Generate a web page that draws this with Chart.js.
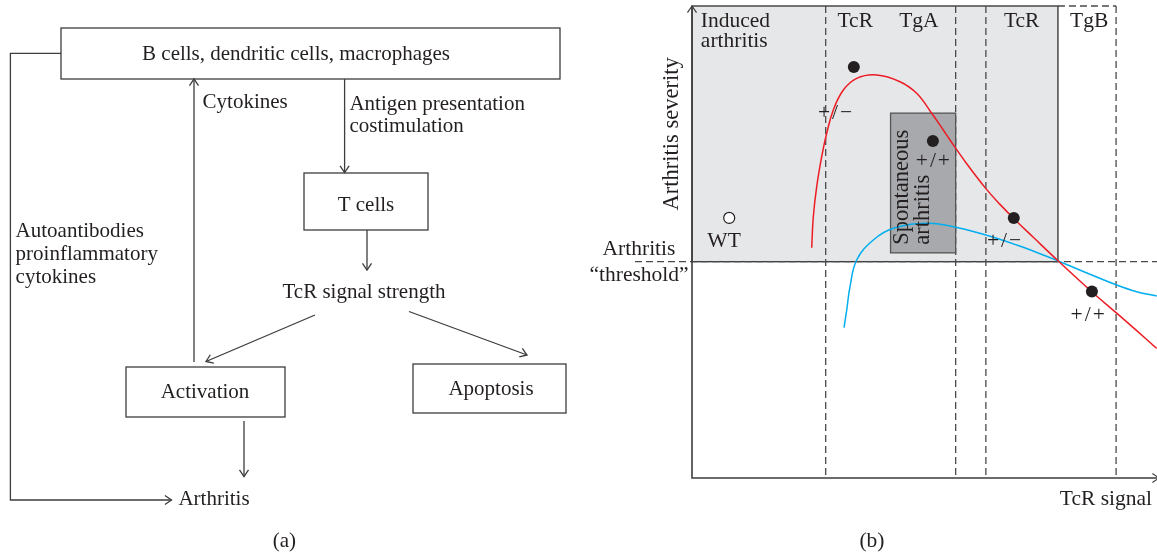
<!DOCTYPE html>
<html>
<head>
<meta charset="utf-8">
<script src="https://cdn.jsdelivr.net/npm/chart.js@4.4.1/dist/chart.umd.min.js"></script>
<style>
  html, body { margin: 0; padding: 0; background: #fff; width: 1157px; height: 554px; overflow: hidden; }
  canvas { position: absolute; top: 0; }
  #flow { left: 0; }
  #curve { left: 580px; }
</style>
</head>
<body>
<canvas id="flow" width="580" height="554"></canvas>
<canvas id="curve" width="577" height="554"></canvas>
<script>
const FONT = '"Liberation Serif", "DejaVu Serif", serif';
const INK = '#231f20';
const LINE = '#3d3d3d';

// panel (b): TcR signal (x, 0-100) against arthritis severity (y, 0-100)
const redX = [25.74, 26.09, 26.82, 27.89, 28.97, 30.39, 32.54, 35.42, 39.72, 44.73, 48.32, 51.55, 54.04, 55.48, 59.08, 63.16, 66.24, 69.46, 73.40, 78.77, 85.96, 91.33, 95.63, 99.94];
const redY = [48.79, 55.36, 61.72, 68.07, 73.03, 77.97, 82.20, 84.68, 85.38, 83.96, 81.50, 77.27, 73.73, 71.61, 66.59, 61.36, 57.97, 54.72, 51.00, 45.97, 39.47, 34.92, 31.23, 27.46];
const blueX = [32.69, 33.27, 33.98, 35.42, 38.99, 43.29, 50.47, 55.48, 62.65, 69.83, 75.55, 78.77, 84.15, 91.33, 95.63, 99.94];
const blueY = [31.84, 35.59, 40.53, 46.19, 50.42, 52.90, 53.96, 53.39, 51.63, 49.36, 47.25, 45.97, 43.75, 40.89, 39.47, 38.56];
const mutantX = [34.8, 51.8, 69.2, 86.0];
const mutantY = [87.1, 71.4, 55.1, 39.5];
const mutantLabels = ['+/\u2212', '+/+', '+/\u2212', '+/+'];
const wtX = [8.0];
const wtY = [55.1];
const threshold = 45.83;
const inducedRight = 78.7;
const bandEdges = [28.75, 56.7, 63.2, 91.2];
const bandLabels = ['TcR', 'TgA', 'TcR', 'TgB'];
const bandLabelX = [35.1, 48.8, 70.9, 85.4];
const spontaneous = [42.7, 56.7, 47.7, 77.3]; // x0, x1, y0, y1

function arrowHead(ctx, x0, y0, x1, y1, len) {
  const a = Math.atan2(y1 - y0, x1 - x0);
  ctx.beginPath();
  ctx.moveTo(x1 - len * Math.cos(a - 0.6), y1 - len * Math.sin(a - 0.6));
  ctx.lineTo(x1, y1);
  ctx.lineTo(x1 - len * Math.cos(a + 0.6), y1 - len * Math.sin(a + 0.6));
  ctx.stroke();
}

// ---------- panel (a): flow diagram ----------
const boxes = [
  { x0: 61, y0: 28, x1: 560, y1: 79, text: 'B cells, dendritic cells, macrophages', tx: 296, ty: 60 },
  { x0: 304, y0: 173, x1: 428, y1: 230, text: 'T cells', tx: 366, ty: 211 },
  { x0: 126, y0: 367, x1: 285, y1: 417, text: 'Activation', tx: 205, ty: 398 },
  { x0: 413, y0: 364, x1: 566, y1: 413, text: 'Apoptosis', tx: 491, ty: 395 }
];
const arrows = [
  [[194, 362], [194, 79]],
  [[344.6, 79], [344.6, 172.5]],
  [[367, 230], [367, 270]],
  [[315, 315], [206, 361.5]],
  [[409, 311.5], [527, 355]],
  [[244, 421], [244, 476.5]],
  [[61, 53.3], [10.4, 53.3], [10.4, 500], [171.5, 500]]
];
const notes = [
  { text: 'Cytokines', x: 202.6, y: 108, align: 'left' },
  { text: 'Antigen presentation', x: 349.4, y: 110, align: 'left' },
  { text: 'costimulation', x: 349.4, y: 131.7, align: 'left' },
  { text: 'Autoantibodies', x: 15.6, y: 236.7, align: 'left' },
  { text: 'proinflammatory', x: 15.6, y: 260, align: 'left' },
  { text: 'cytokines', x: 15.6, y: 283.3, align: 'left' },
  { text: 'TcR signal strength', x: 364, y: 298.3, align: 'center' },
  { text: 'Arthritis', x: 178.4, y: 505, align: 'left' },
  { text: '(a)', x: 284.4, y: 546.7, align: 'center' }
];

const flowPlugin = {
  id: 'flow',
  afterDraw(chart) {
    const ctx = chart.ctx;
    const X = v => chart.scales.x.getPixelForValue(v);
    const Y = v => chart.scales.y.getPixelForValue(v);
    ctx.save();
    ctx.strokeStyle = LINE;
    ctx.lineWidth = 1.3;
    ctx.fillStyle = INK;
    ctx.font = '21px ' + FONT;
    ctx.textBaseline = 'alphabetic';
    boxes.forEach(b => {
      ctx.strokeRect(X(b.x0), Y(b.y0), X(b.x1) - X(b.x0), Y(b.y1) - Y(b.y0));
      ctx.textAlign = 'center';
      ctx.fillText(b.text, X(b.tx), Y(b.ty));
    });
    arrows.forEach(pts => {
      ctx.beginPath();
      pts.forEach((p, i) => i ? ctx.lineTo(X(p[0]), Y(p[1])) : ctx.moveTo(X(p[0]), Y(p[1])));
      ctx.stroke();
      const a = pts[pts.length - 2], b = pts[pts.length - 1];
      arrowHead(ctx, X(a[0]), Y(a[1]), X(b[0]), Y(b[1]), 8);
    });
    notes.forEach(n => {
      ctx.textAlign = n.align;
      ctx.fillText(n.text, X(n.x), Y(n.y));
    });
    ctx.restore();
  }
};

new Chart(document.getElementById('flow'), {
  type: 'scatter',
  data: { datasets: [] },
  options: {
    responsive: false,
    animation: false,
    events: [],
    layout: { padding: 0, autoPadding: false },
    plugins: { legend: { display: false }, tooltip: { enabled: false } },
    scales: {
      x: { type: 'linear', min: 0, max: 580, display: false },
      y: { type: 'linear', min: 0, max: 554, reverse: true, display: false }
    }
  },
  plugins: [flowPlugin]
});

// ---------- panel (b): severity curves ----------
const regionPlugin = {
  id: 'regions',
  beforeDatasetsDraw(chart) {
    const ctx = chart.ctx;
    const a = chart.chartArea;
    const X = v => chart.scales.x.getPixelForValue(v);
    const Y = v => chart.scales.y.getPixelForValue(v);
    ctx.save();
    // induced arthritis region
    ctx.fillStyle = '#e6e7e8';
    ctx.fillRect(X(0), Y(100), X(inducedRight) - X(0), Y(threshold) - Y(100));
    ctx.strokeStyle = LINE;
    ctx.lineWidth = 1.4;
    ctx.strokeRect(X(0), Y(100), X(inducedRight) - X(0), Y(threshold) - Y(100));
    // dashed band edges
    ctx.setLineDash([7, 4]);
    ctx.lineWidth = 1.3;
    ctx.strokeStyle = '#4a4a4a';
    bandEdges.forEach(e => {
      ctx.beginPath();
      ctx.moveTo(X(e), Y(100));
      ctx.lineTo(X(e), Y(0));
      ctx.stroke();
    });
    ctx.beginPath();
    ctx.moveTo(X(inducedRight), Y(100));
    ctx.lineTo(X(bandEdges[3]), Y(100));
    ctx.stroke();
    ctx.beginPath();
    ctx.moveTo(a.left - 57, Y(threshold));
    ctx.lineTo(a.right, Y(threshold));
    ctx.stroke();
    ctx.setLineDash([]);
    // spontaneous arthritis box
    const [sx0, sx1, sy0, sy1] = spontaneous;
    ctx.fillStyle = '#a7a9ac';
    ctx.fillRect(X(sx0), Y(sy1), X(sx1) - X(sx0), Y(sy0) - Y(sy1));
    ctx.strokeStyle = '#555';
    ctx.lineWidth = 1.3;
    ctx.strokeRect(X(sx0), Y(sy1), X(sx1) - X(sx0), Y(sy0) - Y(sy1));
    // axes
    ctx.strokeStyle = LINE;
    ctx.lineWidth = 1.6;
    ctx.beginPath();
    ctx.moveTo(a.left, a.top);
    ctx.lineTo(a.left, a.bottom);
    ctx.lineTo(a.right, a.bottom);
    ctx.stroke();
    ctx.lineWidth = 1.2;
    arrowHead(ctx, a.left, a.top + 20, a.left, a.top, 8);
    arrowHead(ctx, a.right - 20, a.bottom, a.right + 2, a.bottom, 8);
    ctx.restore();
  },
  afterDatasetsDraw(chart) {
    const ctx = chart.ctx;
    const a = chart.chartArea;
    const X = v => chart.scales.x.getPixelForValue(v);
    const Y = v => chart.scales.y.getPixelForValue(v);
    ctx.save();
    ctx.fillStyle = INK;
    ctx.font = '21.5px ' + FONT;
    ctx.textBaseline = 'alphabetic';
    ctx.textAlign = 'left';
    ctx.fillText('Induced', X(1.9), Y(95.6));
    ctx.fillText('arthritis', X(1.9), Y(91.3));
    ctx.textAlign = 'center';
    bandLabels.forEach((t, i) => ctx.fillText(t, X(bandLabelX[i]), Y(95.6)));
    ctx.fillText('WT', X(6.9), Y(49.0));
    // genotype labels next to the filled points
    const labelPos = [[30.75, 77.3], [51.8, 67.0], [67.1, 50.1], [85.1, 34.5]];
    ctx.textBaseline = 'middle';
    ctx.letterSpacing = '2px';
    mutantLabels.forEach((t, i) => ctx.fillText(t, X(labelPos[i][0]) + 1, Y(labelPos[i][1])));
    ctx.letterSpacing = '0px';
    // spontaneous arthritis, rotated
    ctx.font = '22.5px ' + FONT;
    ctx.save();
    ctx.translate(X(47.4), Y(49.4));
    ctx.rotate(-Math.PI / 2);
    ctx.textAlign = 'left';
    ctx.fillText('Spontaneous', 0, -10.8);
    ctx.fillText('arthritis', 0, 10.8);
    ctx.restore();
    // axis titles
    ctx.save();
    ctx.translate(a.left - 20, Y(72.9));
    ctx.rotate(-Math.PI / 2);
    ctx.textAlign = 'center';
    ctx.fillText('Arthritis severity', 0, 0);
    ctx.restore();
    ctx.font = '21.5px ' + FONT;
    ctx.textBaseline = 'alphabetic';
    ctx.textAlign = 'center';
    ctx.fillText('Arthritis', a.left - 53, Y(threshold) - 7);
    ctx.fillText('\u201Cthreshold\u201D', a.left - 53, Y(threshold) + 19.7);
    ctx.textAlign = 'right';
    ctx.fillText('TcR signal', a.right - 5, a.bottom + 27);
    ctx.textAlign = 'center';
    ctx.fillText('(b)', X(38.7), a.bottom + 68.7);
    ctx.restore();
  }
};

const toPoints = (xs, ys) => xs.map((x, i) => ({ x: x, y: ys[i] }));

new Chart(document.getElementById('curve'), {
  type: 'scatter',
  data: {
    datasets: [
      {
        label: 'mutants',
        data: toPoints(mutantX, mutantY),
        pointRadius: 6,
        pointBackgroundColor: INK,
        pointBorderColor: INK,
        pointBorderWidth: 0
      },
      {
        label: 'WT',
        data: toPoints(wtX, wtY),
        pointRadius: 5.5,
        pointBackgroundColor: '#fff',
        pointBorderColor: INK,
        pointBorderWidth: 1.2
      },
      {
        label: 'TgA',
        data: toPoints(redX, redY),
        showLine: true,
        borderColor: '#ed1c24',
        borderWidth: 1.5,
        pointRadius: 0,
        tension: 0.4
      },
      {
        label: 'TgB',
        data: toPoints(blueX, blueY),
        showLine: true,
        borderColor: '#00aeef',
        borderWidth: 1.5,
        pointRadius: 0,
        tension: 0.4
      }
    ]
  },
  options: {
    responsive: false,
    animation: false,
    events: [],
    clip: false,
    layout: { padding: { left: 112, right: 0, top: 6, bottom: 76 }, autoPadding: false },
    plugins: { legend: { display: false }, tooltip: { enabled: false } },
    scales: {
      x: { type: 'linear', min: 0, max: 100, display: false },
      y: { type: 'linear', min: 0, max: 100, display: false }
    }
  },
  plugins: [regionPlugin]
});
</script>
</body>
</html>
